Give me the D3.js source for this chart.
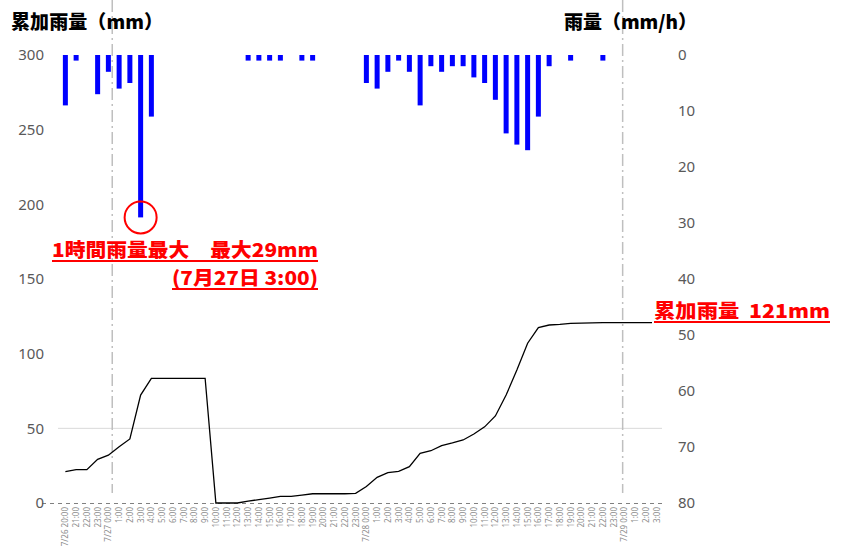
<!DOCTYPE html>
<html><head><meta charset="utf-8">
<script src="https://cdn.jsdelivr.net/npm/d3@7"></script>
<style>
body{margin:0;background:#fff;}
svg{display:block;font-family:"Noto Sans CJK JP","Noto Sans",sans-serif;}
</style></head>
<body><svg id="c" width="843" height="549"></svg>
<script>
const categories = [
 "7/26 20:00","21:00","22:00","23:00",
 "7/27 0:00","1:00","2:00","3:00","4:00","5:00","6:00","7:00","8:00","9:00","10:00","11:00","12:00","13:00","14:00","15:00","16:00","17:00","18:00","19:00","20:00","21:00","22:00","23:00",
 "7/28 0:00","1:00","2:00","3:00","4:00","5:00","6:00","7:00","8:00","9:00","10:00","11:00","12:00","13:00","14:00","15:00","16:00","17:00","18:00","19:00","20:00","21:00","22:00","23:00",
 "7/29 0:00","1:00","2:00","3:00"];
const hourlyRain = [
 9,1,0,7,
 3,6,5,29,11,0,0,0,0,0,0,0,0,1,1,1,1,0,1,1,0,0,0,0,
 5,6,3,1,3,9,2,3,2,2,4,5,8,14,16,17,11,2,0,1,0,0,1,0,
 0,0,0,0];
const cumulativeRain = [
 21,22.3,22.3,29.2,
 32,37.7,42.9,72.3,83.5,83.5,83.5,83.5,83.5,83.5,0,0,0,1.2,2.3,3.3,4.4,4.5,5.3,6.2,6.2,6.2,6.2,6.5,
 11,17.2,20.3,21.2,24.3,33.3,35,38.4,40.2,42.2,46.2,51,58.3,72.3,89,107,117.4,119.2,119.6,120.3,120.5,120.6,120.8,120.8,
 120.8,120.8,120.8,120.8];
const leftTicks = [0,50,100,150,200,250,300];
const rightTicks = [0,10,20,30,40,50,60,70,80];
const dayDividers = [4.36, 51.84]; // positions in category index units
const maxIndex = 7;

const svg = d3.select("#c");
const L = 60, R = 662, T = 55, B = 503;
const x = d3.scaleBand().domain(d3.range(categories.length)).range([L, R]).padding(0);
const bw = x.bandwidth();
const xi = d3.scaleLinear().domain([-0.5, categories.length - 0.5]).range([L, R]);
const yL = d3.scaleLinear().domain([0, 300]).range([B, T]);
const yR = d3.scaleLinear().domain([0, 80]).range([T, B]);

// gridline at 50
svg.append("line").attr("x1", L - 2).attr("x2", R).attr("y1", yL(50)).attr("y2", yL(50))
  .attr("stroke", "#d9d9d9").attr("stroke-width", 1);

// x axis dashed line
svg.append("line").attr("x1", L - 18).attr("x2", R + 2).attr("y1", B + 0.5).attr("y2", B + 0.5)
  .attr("stroke", "#808080").attr("stroke-width", 1).attr("stroke-dasharray", "4,4");

// day divider dash-dot lines
svg.selectAll(".div").data(dayDividers).join("line")
  .attr("x1", d => xi(d)).attr("x2", d => xi(d)).attr("y1", 0).attr("y2", 493)
  .attr("stroke", "#bfbfbf").attr("stroke-width", 1.5).attr("stroke-dasharray", "12,4,2,4");

// bars
svg.selectAll(".bar").data(hourlyRain.map((v,i)=>({v,i})).filter(d=>d.v>0)).join("rect")
  .attr("x", d => x(d.i) + bw/2 - 2.5).attr("width", 5)
  .attr("y", yR(0)).attr("height", d => yR(d.v) - yR(0))
  .attr("fill", "#0000ff");

// cumulative line
svg.append("path").datum(cumulativeRain)
  .attr("d", d3.line().x((d,i)=>x(i)+bw/2).y(d=>yL(d)))
  .attr("fill", "none").attr("stroke", "#000").attr("stroke-width", 1.3);

// left axis
const axL = svg.append("g").attr("transform", `translate(${L - 16},0)`)
  .call(d3.axisLeft(yL).tickValues(leftTicks).tickSize(0).tickPadding(0));
axL.select(".domain").remove();
axL.selectAll("text").attr("font-size", 15).attr("fill", "#595959").attr("font-family", "'Noto Sans',sans-serif");

// right axis
const axR = svg.append("g").attr("transform", `translate(678,0)`)
  .call(d3.axisRight(yR).tickValues(rightTicks).tickSize(0).tickPadding(0));
axR.select(".domain").remove();
axR.selectAll("text").attr("font-size", 15).attr("fill", "#595959").attr("font-family", "'Noto Sans',sans-serif");

// x labels
svg.selectAll(".xl").data(categories).join("text")
  .attr("transform", (d,i)=>`translate(${x(i)+bw/2+3},507) rotate(-90)`)
  .attr("text-anchor", "end").attr("font-size", 8).attr("fill", "#8c8c8c")
  .attr("font-family", "'Noto Sans',sans-serif")
  .text(d=>d);

// titles
svg.append("text").attr("x", 11).attr("y", 29).attr("font-size", 19).attr("font-weight", "900")
  .attr("fill", "#000").attr("textLength", 152).text("累加雨量（mm）");
svg.append("text").attr("x", 564).attr("y", 29).attr("font-size", 19).attr("font-weight", "900")
  .attr("fill", "#000").attr("textLength", 133).text("雨量（mm/h）");

// annotation circle
svg.append("circle").attr("cx", x(maxIndex)+bw/2).attr("cy", yR(hourlyRain[maxIndex]))
  .attr("r", 16).attr("fill", "none").attr("stroke", "#ff0000").attr("stroke-width", 2);

function redText(txt, xPos, yPos, anchor, size, len){
  const t = svg.append("text").attr("x", xPos).attr("y", yPos).attr("text-anchor", anchor)
    .attr("font-size", size).attr("font-weight", "900").attr("fill", "#ff0000")
    .attr("textLength", len).attr("lengthAdjust", "spacingAndGlyphs").text(txt);
  const x0 = anchor === "end" ? xPos - len : xPos;
  svg.append("line").attr("x1", x0).attr("x2", x0 + len).attr("y1", yPos + 4).attr("y2", yPos + 4)
    .attr("stroke", "#ff0000").attr("stroke-width", 2);
  return t;
}
redText("1時間雨量最大　最大29mm", 52, 257, "start", 19, 266);
redText("(7月27日 3:00)", 318, 285, "end", 19, 146);
svg.append("rect").attr("x", 652).attr("y", 300).attr("width", 180).attr("height", 24).attr("fill", "#fff");
redText("累加雨量\u00a0\u00a0121mm", 654, 318, "start", 19, 176);
</script></body></html>
